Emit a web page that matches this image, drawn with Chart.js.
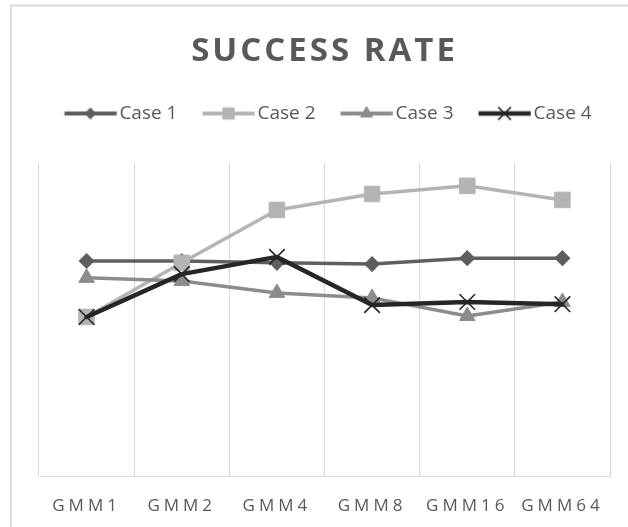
<!DOCTYPE html>
<html>
<head>
<meta charset="utf-8">
<script src="https://cdn.jsdelivr.net/npm/chart.js@4.4.1/dist/chart.umd.min.js"></script>
<style>
  html, body { margin: 0; padding: 0; background: #fff; }
  #wrap { width: 628px; height: 527px; }
</style>
</head>
<body>
<div id="wrap"><canvas id="successChart" width="628" height="527"></canvas></div>
<script>
// --- dane ---
const categories = ['GMM1', 'GMM2', 'GMM4', 'GMM8', 'GMM16', 'GMM64'];
const case1 = [68.7, 68.7, 68.1, 67.7, 69.6, 69.6];
const case2 = [50.8, 68.1, 85.0, 90.1, 92.7, 88.2];
const case3 = [63.3, 62.3, 58.5, 56.9, 51.1, 55.6];
const case4 = [50.8, 64.5, 70.0, 54.6, 55.6, 54.9];
const seriesNames = ['Case 1', 'Case 2', 'Case 3', 'Case 4'];

const TEXT_COLOR = '#595959';
const GRID_COLOR = '#d9d9d9';
const LEGEND_GAP = 30; // dodatkowy odstęp pod legendą

// ikonka legendy: linia + znacznik (jak w Excelu), przesunięta w prawo względem środka pola
const makeLegendIcon = (color, lineWidth, marker) => {
    const c = document.createElement('canvas');
    c.width = 66;
    c.height = 22;
    const g = c.getContext('2d');
    const x0 = 13.75, len = 52;
    g.strokeStyle = color;
    g.fillStyle = color;
    g.lineWidth = lineWidth;
    g.beginPath();
    g.moveTo(x0, 11);
    g.lineTo(x0 + len, 11);
    g.stroke();
    g.lineWidth = marker.borderWidth;
    Chart.helpers.drawPoint(g, Object.assign({ rotation: 0 }, marker), x0 + len / 2, 11);
    return c;
};

const legendIcons = [
    makeLegendIcon('#5f5f5f', 4, { pointStyle: 'rectRot', radius: 5.5, borderWidth: 1 }),
    makeLegendIcon('#b4b4b4', 4, { pointStyle: 'rect', radius: 8, borderWidth: 1 }),
    makeLegendIcon('#8c8c8c', 4, { pointStyle: 'triangle', radius: 7, borderWidth: 1 }),
    makeLegendIcon('#262626', 4.5, { pointStyle: 'crossRot', radius: 9, borderWidth: 1.5 })
];

// ramka wykresu (tylko góra i lewa strona widoczne)
const framePlugin = {
    id: 'frame',
    beforeDraw(chart) {
        const ctx = chart.ctx;
        ctx.save();
        ctx.fillStyle = '#ffffff';
        ctx.fillRect(0, 0, chart.width, chart.height);
        ctx.strokeStyle = GRID_COLOR;
        ctx.lineWidth = 1.8;
        ctx.beginPath();
        ctx.moveTo(11, chart.height);
        ctx.lineTo(11, 5.5);
        ctx.lineTo(chart.width, 5.5);
        ctx.stroke();
        ctx.restore();
    }
};

// rozstrzelenie liter w tytule i etykietach osi X + odstęp pod legendą
const spacingPlugin = {
    id: 'spacing',
    beforeUpdate(chart) {
        const legend = chart.legend;
        if (legend && !legend._gapPatched) {
            const fit = legend.fit;
            legend.fit = function () {
                fit.call(this);
                this.height += LEGEND_GAP;
            };
            legend._gapPatched = true;
        }
    },
    beforeDraw(chart) {
        const wrap = (obj, name, spacing) => {
            if (!obj || obj['_ls_' + name]) return;
            const orig = obj[name];
            obj[name] = function (...args) {
                const ctx = chart.ctx;
                ctx.save();
                ctx.letterSpacing = spacing;
                orig.apply(this, args);
                ctx.restore();
            };
            obj['_ls_' + name] = true;
        };
        wrap(chart.titleBlock, 'draw', '3px');
        wrap(chart.scales.x, 'drawLabels', '4px');
    }
};

const ctx = document.getElementById('successChart').getContext('2d');

new Chart(ctx, {
    type: 'line',
    data: {
        labels: categories,
        datasets: [{
            label: seriesNames[0],
            data: case1,
            borderColor: '#5f5f5f',
            backgroundColor: '#5f5f5f',
            borderWidth: 3.5,
            pointStyle: 'rectRot',
            pointRadius: 7,
            pointBorderWidth: 1.5,
            order: 4
        }, {
            label: seriesNames[1],
            data: case2,
            borderColor: '#b4b4b4',
            backgroundColor: '#b4b4b4',
            borderWidth: 3.5,
            pointStyle: 'rect',
            pointRadius: 11,
            pointBorderWidth: 1,
            order: 3
        }, {
            label: seriesNames[2],
            data: case3,
            borderColor: '#8c8c8c',
            backgroundColor: '#8c8c8c',
            borderWidth: 3.5,
            pointStyle: 'triangle',
            pointRadius: 9,
            pointBorderWidth: 1,
            order: 2
        }, {
            label: seriesNames[3],
            data: case4,
            borderColor: '#262626',
            backgroundColor: '#262626',
            borderWidth: 4.5,
            pointStyle: 'crossRot',
            pointRadius: 11,
            pointBorderWidth: 1.6,
            order: 1
        }]
    },
    options: {
        responsive: false,
        animation: false,
        events: [],
        elements: {
            line: { tension: 0, borderJoinStyle: 'round', borderCapStyle: 'round' }
        },
        layout: {
            padding: { left: 39, right: 18, top: 0, bottom: -8.4 }
        },
        scales: {
            x: {
                offset: true,
                grid: { offset: true, color: GRID_COLOR, lineWidth: 1, drawTicks: false },
                border: { color: GRID_COLOR, width: 1 },
                ticks: {
                    color: TEXT_COLOR,
                    padding: 19.5,
                    font: { family: 'Open Sans', size: 17 }
                }
            },
            y: {
                display: false,
                min: 0,
                max: 100
            }
        },
        plugins: {
            title: {
                display: true,
                text: 'SUCCESS RATE',
                color: TEXT_COLOR,
                font: { family: 'Open Sans', size: 33, weight: 'bold' },
                padding: { top: 32, bottom: 14.4 }
            },
            legend: {
                position: 'top',
                labels: {
                    usePointStyle: true,
                    pointStyleWidth: 52.5,
                    padding: 18,
                    color: TEXT_COLOR,
                    font: { family: 'Open Sans', size: 19 },
                    generateLabels: (chart) => chart.data.datasets.map((ds, i) => ({
                        text: ds.label,
                        pointStyle: legendIcons[i],
                        fillStyle: ds.borderColor,
                        strokeStyle: ds.borderColor,
                        lineWidth: 0,
                        hidden: false,
                        datasetIndex: i,
                        fontColor: TEXT_COLOR
                    }))
                }
            },
            tooltip: { enabled: false }
        }
    },
    plugins: [framePlugin, spacingPlugin]
});
</script>
</body>
</html>
